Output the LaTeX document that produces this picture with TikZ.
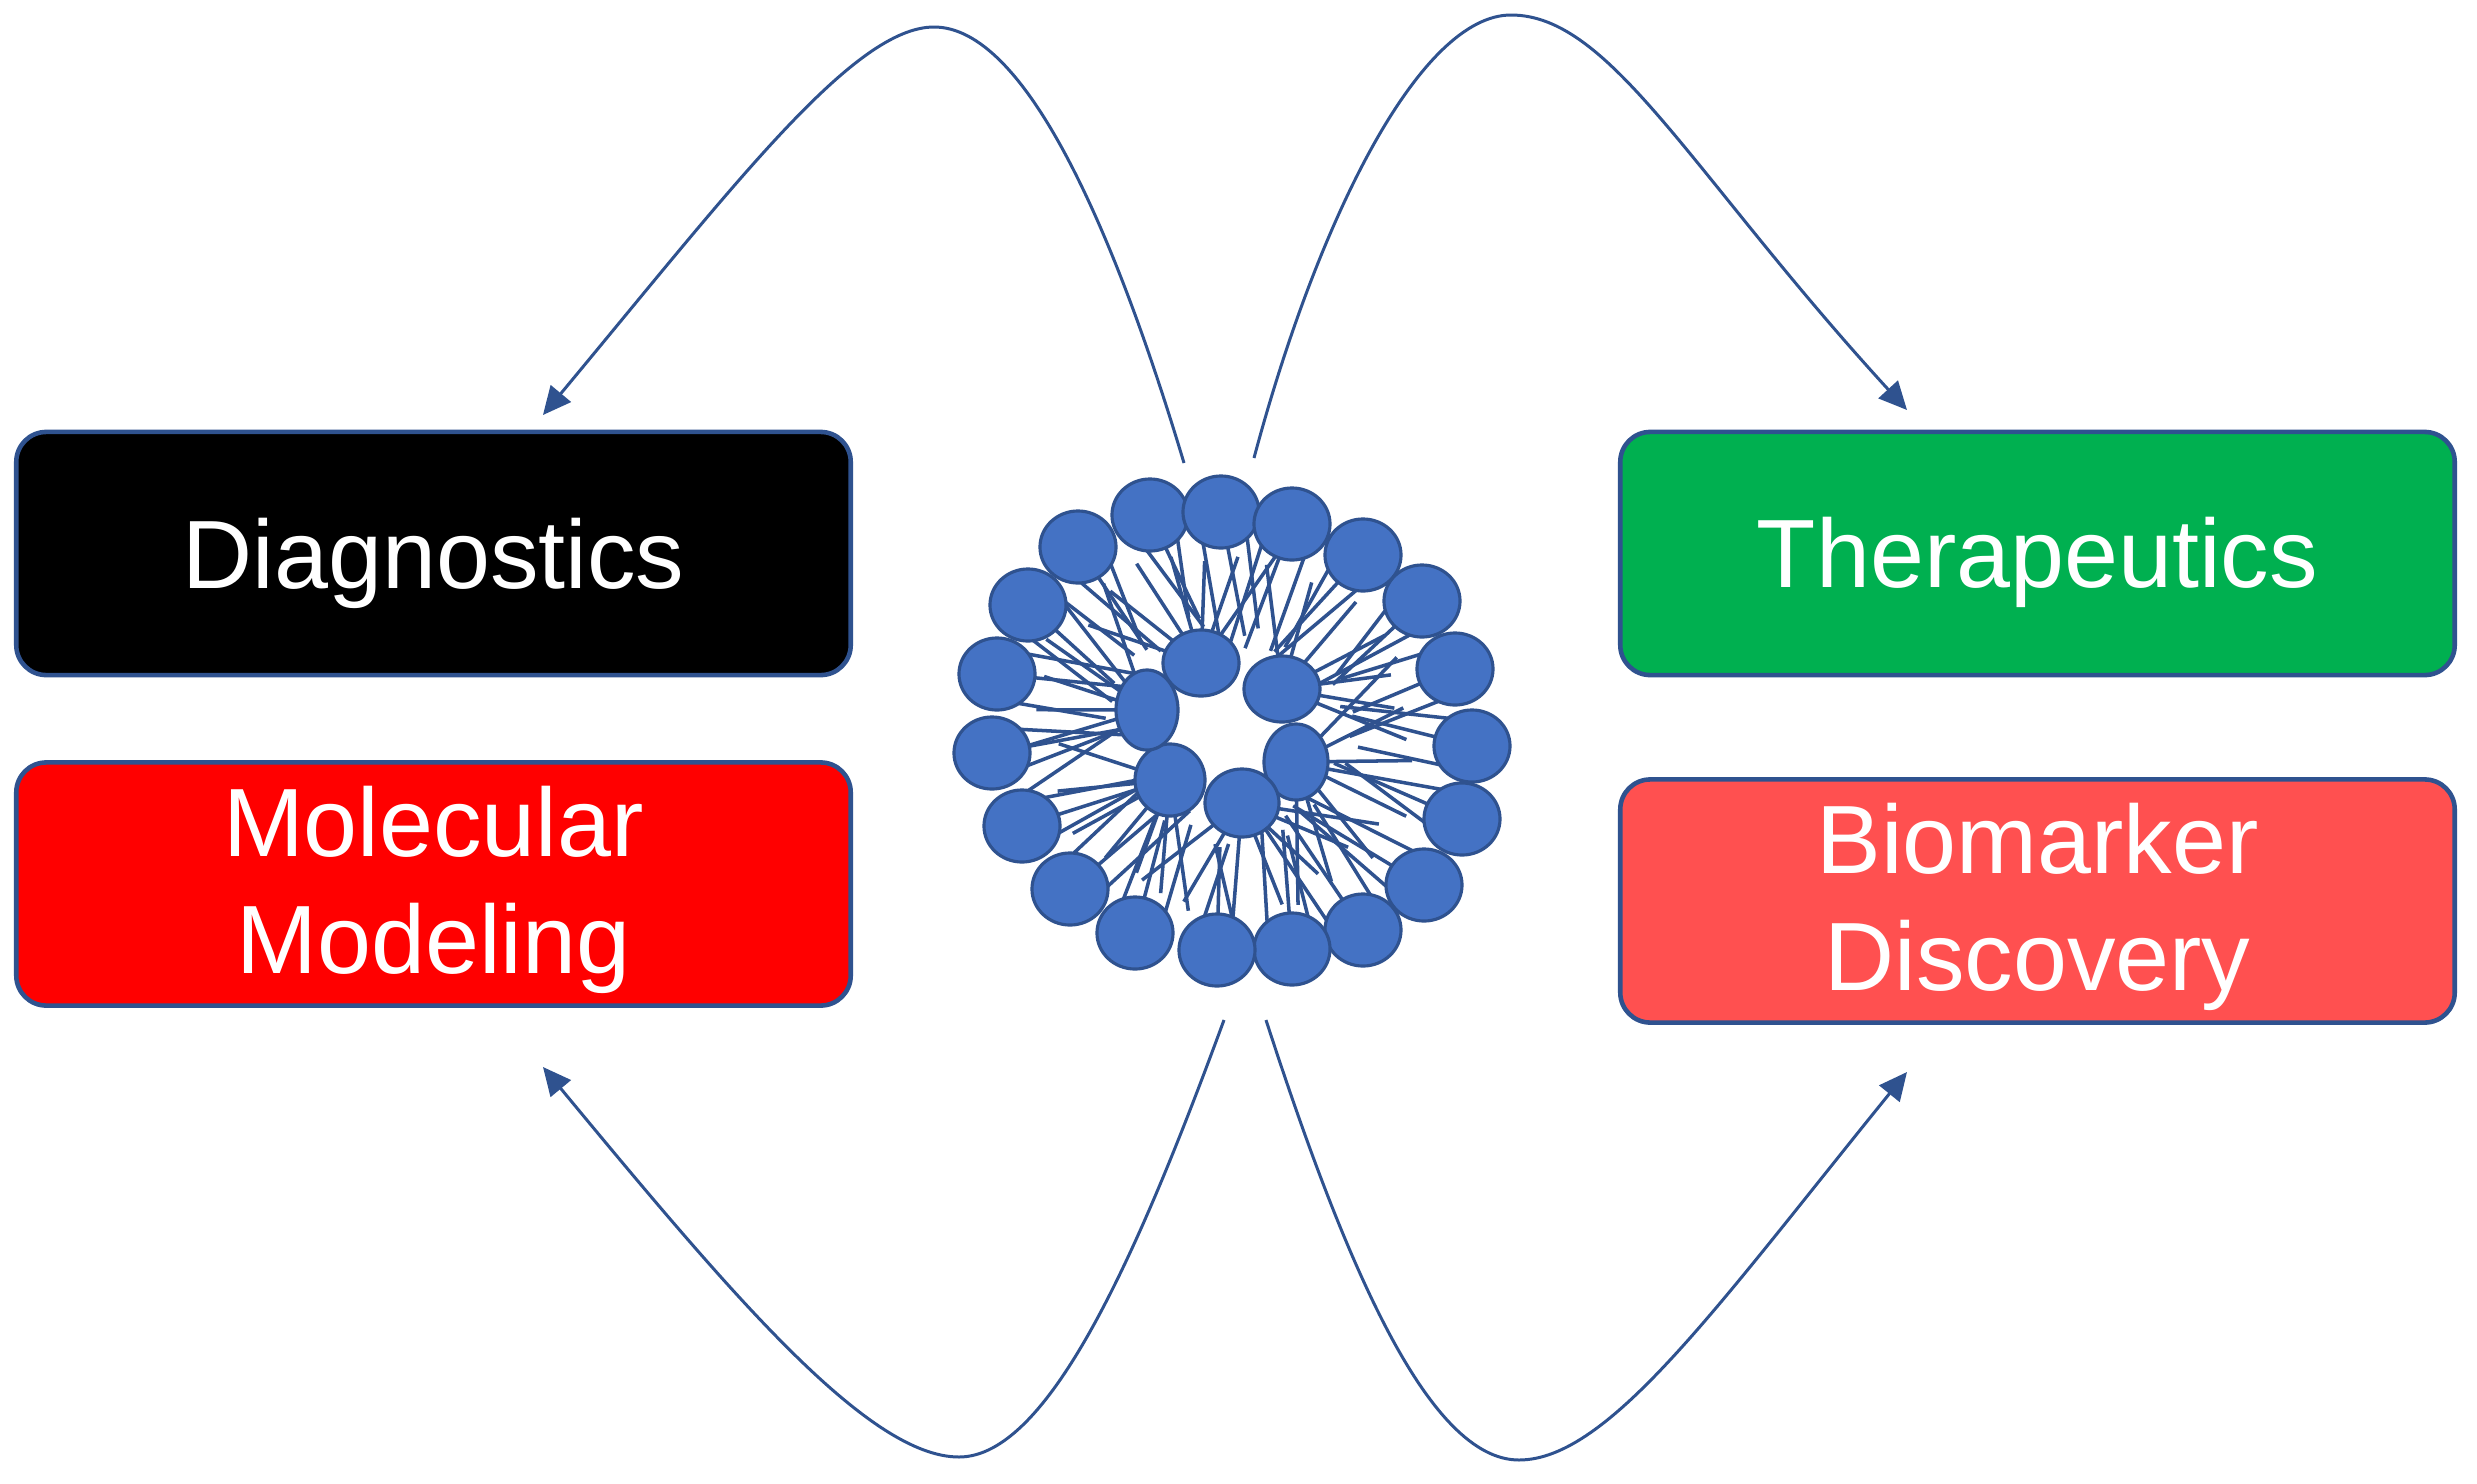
\documentclass[tikz,border=0pt]{standalone}
\usepackage{fontspec}
\setmainfont{Liberation Sans}
\usetikzlibrary{arrows.meta,calc}
\definecolor{bord}{HTML}{2F528F}
\definecolor{headc}{HTML}{4472C4}
\definecolor{grn}{HTML}{00B050}
\definecolor{lred}{HTML}{FF5050}
\begin{document}
\begin{tikzpicture}[x=0.01cm,y=-0.01cm,
  box/.style={draw=bord, line width=1.3pt, rounded corners=0.3cm, minimum width=8.34cm, minimum height=2.43cm, inner sep=0pt},
  lbl/.style={text=white, font=\fontsize{27.6}{33.3}\selectfont, anchor=base, inner sep=0pt},
  conn/.style={draw=bord, line width=0.85pt, -{Triangle[length=0.28cm,width=0.26cm]}},
  head/.style={fill=headc, draw=bord, line width=0.9pt},
  tail/.style={draw=bord, line width=1pt}]
\fill[white] (0,0) rectangle (2477,1484);
\useasboundingbox (0,0) rectangle (2477,1484);

% boxes
\node[box, fill=black] (diag) at (433.5,553.5) {};
\node[box, fill=red] (molmod) at (433.5,884) {};
\node[box, fill=grn] (thera) at (2037.5,553.5) {};
\node[box, fill=lred] (biom) at (2037.5,901) {};
\node[lbl] (diag-t) at (433.5,588) {Diagnostics};
\node[lbl] (mol-t1) at (433.5,856) {Molecular};
\node[lbl] (mol-t2) at (433.5,973) {Modeling};
\node[lbl] (thera-t) at (2037.5,587) {Therapeutics};
\node[lbl] (biom-t1) at (2037.5,873) {Biomarker};
\node[lbl] (biom-t2) at (2037.5,990) {Discovery};

% liposome
\coordinate (lc) at (1232,732);
\coordinate (ic) at (1223,734);
\coordinate (o1) at (1150,515);
\coordinate (o2) at (1221,512);
\coordinate (o3) at (1292,524);
\coordinate (o4) at (1363,555);
\coordinate (o5) at (1422,601);
\coordinate (o6) at (1455,669);
\coordinate (o7) at (1472,746);
\coordinate (o8) at (1462,819);
\coordinate (o9) at (1424,885);
\coordinate (o10) at (1363,930);
\coordinate (o11) at (1292,949);
\coordinate (o12) at (1217,950);
\coordinate (o13) at (1135,933);
\coordinate (o14) at (1070,889);
\coordinate (o15) at (1022,826);
\coordinate (o16) at (992,753);
\coordinate (o17) at (997,674);
\coordinate (o18) at (1028,605);
\coordinate (o19) at (1078,547);
\coordinate (i1) at (1201,663);
\coordinate (i2) at (1282,689);
\coordinate (i3) at (1296,762);
\coordinate (i4) at (1242,803);
\coordinate (i5) at (1170,780);
\coordinate (i6) at (1147,710);

% tails of the outer layer
\foreach \n in {1,...,19}{
  \foreach \k in {1,2,3}{
    \pgfmathsetmacro{\sa}{(\k-2)*6}
    \pgfmathsetmacro{\ea}{\sa+12*sin(\n*97+\k*53)}
    \pgfmathsetmacro{\f}{0.46+0.07*sin(\n*61+\k*37)}
    \draw[tail] ($(lc)!1!\sa:(o\n)$) -- ($(lc)!\f!\ea:(o\n)$);
  }
}
% tails of the inner layer
\foreach \n in {1,...,6}{
  \foreach \k in {1,...,7}{
    \pgfmathsetmacro{\t}{-40+(\k-1)*13.3+6*sin(\n*71+\k*29)}
    \pgfmathsetmacro{\kk}{2.45+0.12*sin(\n*43+\k*83)}
    \draw[tail] (i\n) -- ($(ic)!\kk!\t:(i\n)$);
  }
}
\foreach \n in {1,...,19}{
  \draw[head] (o\n) ellipse [x radius=0.38cm, y radius=0.36cm];
}
\draw[head] (i1) ellipse [x radius=0.38cm, y radius=0.33cm];
\draw[head] (i2) ellipse [x radius=0.38cm, y radius=0.33cm];
\draw[head] (i3) ellipse [x radius=0.32cm, y radius=0.38cm];
\draw[head] (i4) ellipse [x radius=0.37cm, y radius=0.34cm];
\draw[head] (i5) ellipse [x radius=0.35cm, y radius=0.36cm];
\draw[head] (i6) ellipse [x radius=0.31cm, y radius=0.40cm];

% connectors
\coordinate (tl-s) at (1184,463); \coordinate (tl-p) at (934,27); \coordinate (tl-e) at (543,415);
\coordinate (tr-s) at (1254,458); \coordinate (tr-p) at (1511,15); \coordinate (tr-e) at (1907,410);
\coordinate (bl-s) at (1224,1020); \coordinate (bl-p) at (959,1457); \coordinate (bl-e) at (543,1067);
\coordinate (br-s) at (1266,1020); \coordinate (br-p) at (1519,1460); \coordinate (br-e) at (1907,1072);
\draw[conn] (tl-s) .. controls +(-72,-240) and +(90,0) .. (tl-p) .. controls +(-80,0) and +(192,-231) .. (tl-e);
\draw[conn] (tr-s) .. controls +(65,-243) and +(-90,0) .. (tr-p) .. controls +(100,0) and +(-216,-236) .. (tr-e);
\draw[conn] (bl-s) .. controls +(-86,234) and +(90,0) .. (bl-p) .. controls +(-90,0) and +(191,231) .. (bl-e);
\draw[conn] (br-s) .. controls +(80,247) and +(-90,0) .. (br-p) .. controls +(90,0) and +(-189,233) .. (br-e);
\end{tikzpicture}
\end{document}
